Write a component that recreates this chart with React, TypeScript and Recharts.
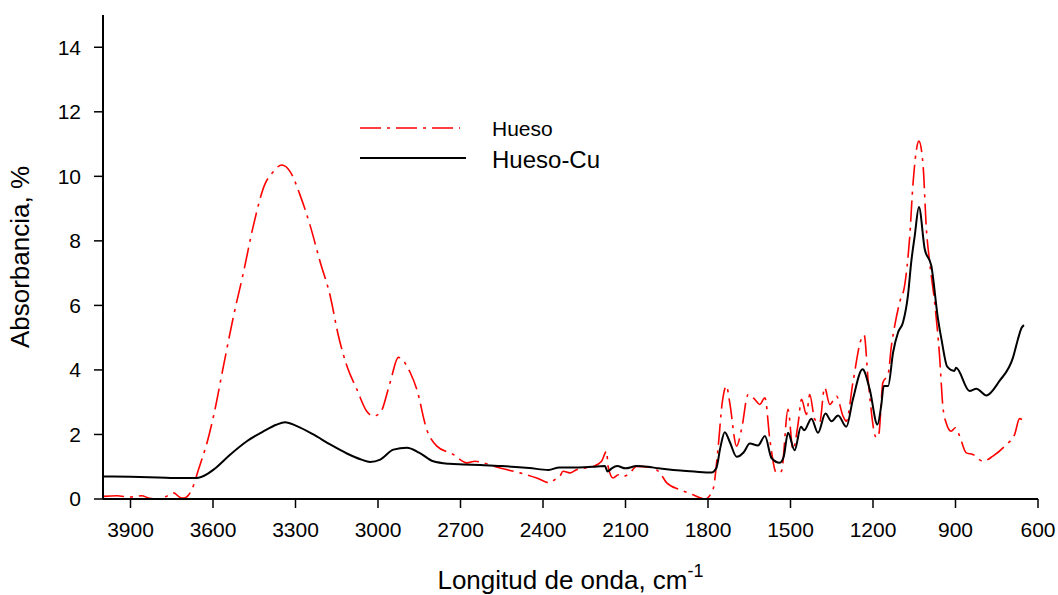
import { LineChart, Line, XAxis, YAxis } from 'recharts';

// Hueso-Cu (black) spectrum: wavenumber (cm-1) / absorbance (%)
const CU_WAVE = [
  4000, 3900, 3800, 3720, 3660, 3620, 3598, 3537, 3477, 3416, 3370, 3338, 3295,
  3235, 3174, 3113, 3060, 3029, 2992, 2944, 2895, 2849, 2799, 2740, 2690, 2629,
  2550, 2450, 2380, 2340, 2280, 2220, 2175, 2165, 2150, 2130, 2100, 2060, 2020,
  1980, 1950, 1900, 1850, 1787, 1770, 1755, 1739, 1720, 1696, 1670, 1648, 1618,
  1593, 1569, 1539, 1525, 1509, 1485, 1462, 1450, 1424, 1400, 1373, 1351, 1327,
  1297, 1273, 1238, 1212, 1184, 1170, 1161, 1145, 1127, 1109, 1091, 1073, 1061,
  1048, 1033, 1012, 988, 964, 950, 930, 904, 898, 849, 824, 788, 740, 691, 673,
  660, 651,
];
const CU_ABS = [
  0.7, 0.69, 0.67, 0.65, 0.65, 0.78, 0.91, 1.38, 1.79, 2.1, 2.3, 2.38, 2.26,
  2.0, 1.69, 1.41, 1.22, 1.15, 1.22, 1.53, 1.59, 1.43, 1.17, 1.09, 1.07, 1.05,
  1.02, 0.96, 0.9, 0.98, 0.98, 1.0, 1.02, 0.85, 0.95, 1.02, 0.95, 1.02, 1.0,
  0.95, 0.92, 0.88, 0.85, 0.82, 0.95, 1.6, 2.07, 1.75, 1.31, 1.45, 1.72, 1.66,
  1.95, 1.27, 1.12, 1.3, 2.05, 1.51, 2.24, 2.13, 2.49, 2.05, 2.65, 2.41, 2.59,
  2.24, 3.09, 4.02, 3.4, 2.31, 2.9, 3.5, 3.5, 4.54, 5.16, 5.47, 6.3, 7.34,
  8.17, 9.05, 7.75, 7.23, 5.6, 4.9, 4.1, 3.97, 4.07, 3.35, 3.42, 3.21, 3.66, 4.38, 4.95,
  5.3, 5.39,
];

// Hueso (red) spectrum
const HUESO_WAVE = [
  4000, 3950, 3900, 3860, 3830, 3804, 3770, 3743, 3720, 3707, 3677, 3653, 3620,
  3598, 3562, 3525, 3489, 3453, 3410, 3386, 3350, 3319, 3283, 3247, 3210, 3174,
  3144, 3113, 3077, 3041, 3017, 2992, 2956, 2926, 2883, 2859, 2823, 2786, 2726,
  2677, 2647, 2617, 2556, 2484, 2423, 2375, 2357, 2339, 2327, 2302, 2278, 2217,
  2187, 2169, 2163, 2145, 2126, 2108, 2084, 2060, 1999, 1975, 1950, 1902, 1854,
  1811, 1782, 1764, 1748, 1733, 1721, 1696, 1678, 1654, 1630, 1612, 1593, 1575,
  1551, 1533, 1509, 1491, 1472, 1460, 1442, 1430, 1412, 1394, 1376, 1357, 1333,
  1309, 1297, 1273, 1243, 1232, 1218, 1188, 1179, 1164, 1145, 1133, 1121, 1103,
  1085, 1067, 1054, 1033, 1018, 1006, 994, 976, 958, 946, 934, 916, 900, 885,
  861, 837, 800, 764, 715, 685, 667, 655,
];
const HUESO_ABS = [
  0.08, 0.1, 0.06, 0.1, 0.02, 0.0, 0.08, 0.19, 0.05, 0.03, 0.29, 0.91, 1.8,
  2.57, 4.12, 5.68, 7.03, 8.48, 9.78, 10.09, 10.35, 10.14, 9.41, 8.48, 7.34, 6.3,
  5.06, 4.12, 3.4, 2.72, 2.57, 2.67, 3.61, 4.39, 3.92, 3.4, 2.16, 1.64, 1.38,
  1.12, 1.17, 1.12, 0.96, 0.81, 0.65, 0.5, 0.6, 0.7, 0.86, 0.81, 0.91, 1.01,
  1.17, 1.48, 1.0, 0.65, 0.75, 0.7, 0.81, 1.01, 0.96, 0.81, 0.5, 0.29, 0.13,
  0.0, 0.29, 1.53, 3.0, 3.5, 2.99, 1.64, 2.16, 3.24, 3.09, 2.93, 3.14, 1.84,
  0.81, 0.86, 2.78, 1.53, 2.36, 3.09, 2.62, 3.24, 2.47, 2.36, 3.45, 2.93, 3.19,
  2.57, 2.41, 3.61, 4.95, 5.08, 3.71, 1.9, 2.0, 3.61, 3.87, 4.75, 5.37, 6.1,
  6.61, 8.07, 9.83, 11.09, 10.35, 8.38, 7.34, 6.1, 4.44, 2.88, 2.36, 2.1, 2.21, 1.95,
  1.43, 1.38, 1.17, 1.33, 1.69, 2.0, 2.49, 2.44,
];

const X_TICKS = [3900, 3600, 3300, 3000, 2700, 2400, 2100, 1800, 1500, 1200, 900, 600];
const Y_TICKS = [0, 2, 4, 6, 8, 10, 12, 14];

const FONT = '"Liberation Sans", Arial, sans-serif';
const RED = '#ff0000';
const DASH = '21 6 3 6';

const cuData = CU_WAVE.map((x, i) => ({ x, y: CU_ABS[i] }));
const huesoData = HUESO_WAVE.map((x, i) => ({ x, y: HUESO_ABS[i] }));

// legend sits inside the plot, so it is drawn as an overlay instead of <Legend>
function SpectraLegend() {
  return (
    <svg
      width={300}
      height={70}
      style={{ position: 'absolute', left: 355, top: 112, overflow: 'visible' }}
    >
      <line x1={5} y1={16} x2={105} y2={16} stroke={RED} strokeWidth={1.6} strokeDasharray={DASH} />
      <text x={137} y={16} dy="0.36em" fontSize={21} fontFamily={FONT} fill="#000">Hueso</text>
      <line x1={5} y1={46} x2={111} y2={46} stroke="#000" strokeWidth={2} />
      <text x={137} y={47} dy="0.36em" fontSize={24} fontFamily={FONT} fill="#000">Hueso-Cu</text>
    </svg>
  );
}

export default function App() {
  return (
    <div style={{ position: 'absolute', left: 0, top: 0, width: 1058, height: 595, background: '#fff' }}>
      <LineChart width={1058} height={595} margin={{ top: 15, right: 20, bottom: 36, left: 40 }}>
        <XAxis
          xAxisId="b"
          type="number"
          dataKey="x"
          domain={[600, 4000]}
          reversed
          allowDataOverflow
          ticks={X_TICKS}
          tickSize={9}
          tickMargin={14}
          height={60}
          stroke="#000"
          strokeWidth={2}
          tick={{ fill: '#000', fontSize: 21, fontFamily: FONT }}
          tickLine={{ stroke: '#000', strokeWidth: 1.5 }}
          label={({ viewBox }: any) => (
            <text
              x={viewBox.x + viewBox.width / 2}
              y={582}
              textAnchor="middle"
              dominantBaseline="middle"
              fontSize={26}
              fontFamily={FONT}
              fill="#000"
            >
              Longitud de onda, cm
              <tspan dy={-10} fontSize={18}>-1</tspan>
            </text>
          )}
        />
        <XAxis
          xAxisId="t"
          orientation="top"
          type="number"
          dataKey="x"
          domain={[600, 4000]}
          reversed
          height={0}
          tick={false}
          tickLine={false}
          stroke="#000"
          strokeWidth={2}
        />
        <YAxis
          yAxisId="l"
          type="number"
          domain={[0, 15]}
          ticks={Y_TICKS}
          allowDataOverflow
          width={63}
          tickSize={9}
          tickMargin={13}
          stroke="#000"
          strokeWidth={2}
          tick={{ fill: '#000', fontSize: 21, fontFamily: FONT }}
          tickLine={{ stroke: '#000', strokeWidth: 1.5 }}
          label={({ viewBox }: any) => (
            <text
              x={22}
              y={viewBox.y + viewBox.height / 2}
              transform={`rotate(-90, 22, ${viewBox.y + viewBox.height / 2})`}
              textAnchor="middle"
              dominantBaseline="middle"
              fontSize={26}
              fontFamily={FONT}
              fill="#000"
            >
              Absorbancia, %
            </text>
          )}
        />
        <YAxis
          yAxisId="r"
          orientation="right"
          type="number"
          domain={[0, 15]}
          width={0}
          tick={false}
          tickLine={false}
          stroke="#000"
          strokeWidth={2}
        />
        <Line
          xAxisId="b"
          yAxisId="l"
          data={huesoData}
          dataKey="y"
          name="Hueso"
          type="monotone"
          stroke={RED}
          strokeWidth={1.6}
          strokeDasharray={DASH}
          dot={false}
          isAnimationActive={false}
        />
        <Line
          xAxisId="b"
          yAxisId="l"
          data={cuData}
          dataKey="y"
          name="Hueso-Cu"
          type="monotone"
          stroke="#000"
          strokeWidth={2}
          dot={false}
          isAnimationActive={false}
        />
      </LineChart>
      <SpectraLegend />
    </div>
  );
}
